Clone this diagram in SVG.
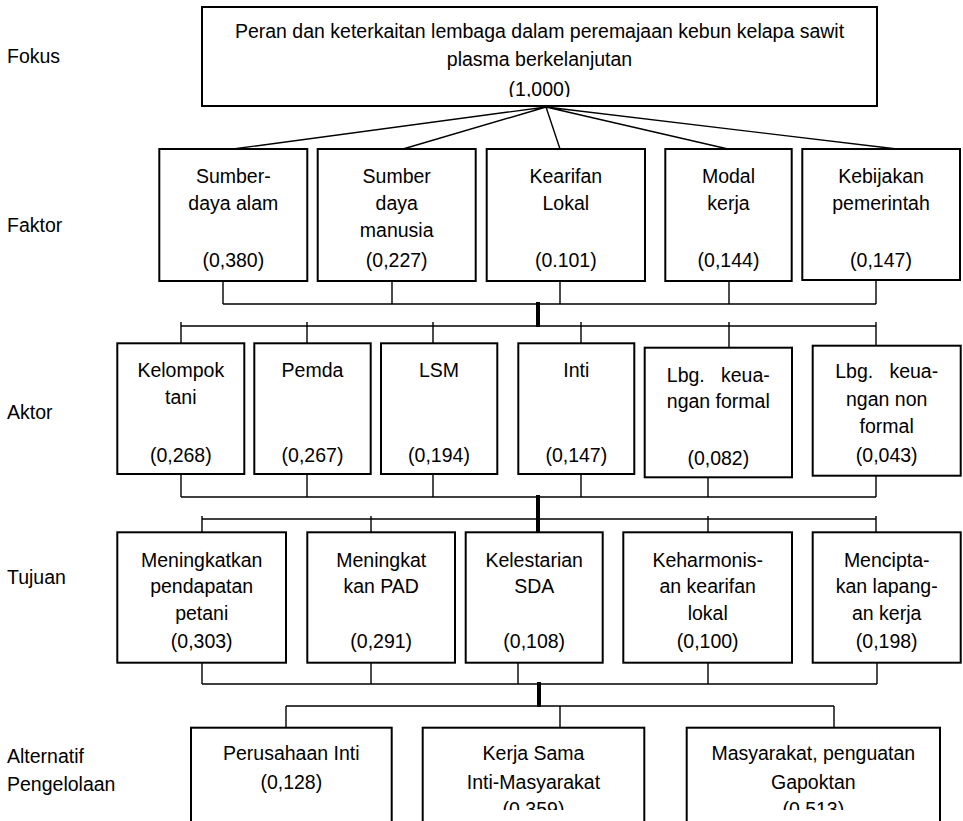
<svg xmlns="http://www.w3.org/2000/svg" width="963" height="821" viewBox="0 0 963 821">
<style>
.box{fill:#fff;stroke:#000;stroke-width:2}
.ln{stroke:#000;stroke-width:1.4;fill:none}
.thick{stroke:#000;stroke-width:4;fill:none}
text{font-family:"Liberation Sans",Arial,sans-serif;font-size:19.5px;fill:#000}
.c{text-anchor:middle}
</style>
<defs>
<clipPath id="clipTop"><rect x="0" y="0" width="963" height="97"/></clipPath>
<clipPath id="clipBot"><rect x="0" y="0" width="963" height="810"/></clipPath>
</defs>
<rect x="0" y="0" width="963" height="821" fill="#fff"/>
<g id="levels">
<text x="7" y="63">Fokus</text>
<text x="7" y="232">Faktor</text>
<text x="7" y="419">Aktor</text>
<text x="7" y="584">Tujuan</text>
<text x="7" y="763">Alternatif</text>
<text x="7" y="791">Pengelolaan</text>
</g>
<g id="connectors">
<path class="ln" d="M546,107 L233,149 M546,107 L403,149 M546,107 L560,149 M546,107 L728,149 M546,107 L897,149"/>
<path class="ln" d="M223,281 V304 M392,281 V304 M560,281 V304 M729,281 V304 M876,280 V304 M223,304 H876"/>
<path class="thick" d="M538,302 V327"/>
<path class="ln" d="M181,326 H876 M181,322 V343 M307,322 V343 M433,322 V343 M581,322 V343 M729,322 V348 M876,322 V346"/>
<path class="ln" d="M181,474 V497 M307,474 V497 M433,474 V497 M581,474 V497 M708,477 V497 M876,476 V497 M181,497 H876"/>
<path class="thick" d="M538,495 V532"/>
<path class="ln" d="M202,519 H876 M202,516 V532 M371,516 V532 M708,516 V532 M876,516 V532"/>
<path class="ln" d="M202,663 V684 M371,663 V684 M518,663 V684 M708,663 V684 M877,663 V684 M202,684 H877"/>
<path class="thick" d="M539,682 V707"/>
<path class="ln" d="M286,706 H834 M286,706 V728 M560,706 V728 M834,706 V728"/>
</g>
<g id="fokus">
<rect class="box" x="202" y="7" width="675" height="99"/>
<text class="c" x="539.5" y="38">Peran dan keterkaitan lembaga dalam peremajaan kebun kelapa sawit</text>
<text class="c" x="539.5" y="66">plasma berkelanjutan</text>
<text class="c" x="539.5" y="96" clip-path="url(#clipTop)">(1,000)</text>
</g>
<g id="faktor-sda">
<rect class="box" x="159.3" y="149" width="148" height="132"/>
<text class="c" x="233.3" y="183">Sumber-</text>
<text class="c" x="233.3" y="210">daya alam</text>
<text class="c" x="233.3" y="267">(0,380)</text>
</g>
<g id="faktor-sdm">
<rect class="box" x="317.7" y="149" width="158" height="132"/>
<text class="c" x="396.7" y="183">Sumber</text>
<text class="c" x="396.7" y="210">daya</text>
<text class="c" x="396.7" y="237">manusia</text>
<text class="c" x="396.7" y="267">(0,227)</text>
</g>
<g id="faktor-kearifan">
<rect class="box" x="486.7" y="149" width="158.3" height="132"/>
<text class="c" x="565.8" y="183">Kearifan</text>
<text class="c" x="565.8" y="210">Lokal</text>
<text class="c" x="565.8" y="267">(0.101)</text>
</g>
<g id="faktor-modal">
<rect class="box" x="665.3" y="149" width="126.4" height="132"/>
<text class="c" x="728.5" y="183">Modal</text>
<text class="c" x="728.5" y="210">kerja</text>
<text class="c" x="728.5" y="267">(0,144)</text>
</g>
<g id="faktor-kebijakan">
<rect class="box" x="802.3" y="149" width="157.7" height="131"/>
<text class="c" x="881" y="183">Kebijakan</text>
<text class="c" x="881" y="210">pemerintah</text>
<text class="c" x="881" y="267">(0,147)</text>
</g>
<g id="aktor-kelompok">
<rect class="box" x="117.3" y="343.3" width="127" height="130.7"/>
<text class="c" x="180.8" y="377">Kelompok</text>
<text class="c" x="180.8" y="404">tani</text>
<text class="c" x="180.8" y="462">(0,268)</text>
</g>
<g id="aktor-pemda">
<rect class="box" x="254.3" y="343.3" width="116.4" height="130.7"/>
<text class="c" x="312.5" y="377">Pemda</text>
<text class="c" x="312.5" y="462">(0,267)</text>
</g>
<g id="aktor-lsm">
<rect class="box" x="381" y="343.3" width="116.3" height="130.7"/>
<text class="c" x="439" y="377">LSM</text>
<text class="c" x="439" y="462">(0,194)</text>
</g>
<g id="aktor-inti">
<rect class="box" x="518.3" y="343.3" width="116" height="130.7"/>
<text class="c" x="576.3" y="377">Inti</text>
<text class="c" x="576.3" y="462">(0,147)</text>
</g>
<g id="aktor-lk-formal">
<rect class="box" x="644.7" y="347.7" width="147.3" height="129.6"/>
<text class="c" x="718.3" y="382" xml:space="preserve">Lbg.   keua-</text>
<text class="c" x="718.3" y="408">ngan formal</text>
<text class="c" x="718.3" y="465">(0,082)</text>
</g>
<g id="aktor-lk-nonformal">
<rect class="box" x="812.7" y="345.7" width="148" height="130"/>
<text class="c" x="886.7" y="378" xml:space="preserve">Lbg.   keua-</text>
<text class="c" x="886.7" y="406">ngan non</text>
<text class="c" x="886.7" y="433">formal</text>
<text class="c" x="886.7" y="462">(0,043)</text>
</g>
<g id="tujuan-pendapatan">
<rect class="box" x="117.3" y="532.3" width="168.7" height="130.4"/>
<text class="c" x="201.7" y="567">Meningkatkan</text>
<text class="c" x="201.7" y="593">pendapatan</text>
<text class="c" x="201.7" y="620">petani</text>
<text class="c" x="201.7" y="648">(0,303)</text>
</g>
<g id="tujuan-pad">
<rect class="box" x="307.3" y="532.3" width="147.7" height="130.4"/>
<text class="c" x="381.2" y="567">Meningkat</text>
<text class="c" x="381.2" y="593">kan PAD</text>
<text class="c" x="381.2" y="648">(0,291)</text>
</g>
<g id="tujuan-sda">
<rect class="box" x="465.7" y="532.3" width="137" height="130.4"/>
<text class="c" x="534.2" y="567">Kelestarian</text>
<text class="c" x="534.2" y="593">SDA</text>
<text class="c" x="534.2" y="648">(0,108)</text>
</g>
<g id="tujuan-kearifan">
<rect class="box" x="623.3" y="532.3" width="168.7" height="130.4"/>
<text class="c" x="707.7" y="567">Keharmonis-</text>
<text class="c" x="707.7" y="593">an kearifan</text>
<text class="c" x="707.7" y="620">lokal</text>
<text class="c" x="707.7" y="648">(0,100)</text>
</g>
<g id="tujuan-lapangan">
<rect class="box" x="812.7" y="532.3" width="148" height="130.4"/>
<text class="c" x="886.7" y="567">Mencipta-</text>
<text class="c" x="886.7" y="593">kan lapang-</text>
<text class="c" x="886.7" y="620">an kerja</text>
<text class="c" x="886.7" y="648">(0,198)</text>
</g>
<g id="alt-inti">
<rect class="box" x="191" y="727.7" width="200.7" height="110"/>
<text class="c" x="291.3" y="760">Perusahaan Inti</text>
<text class="c" x="291.3" y="789">(0,128)</text>
</g>
<g id="alt-kerjasama">
<rect class="box" x="422.7" y="727.7" width="221.6" height="110"/>
<text class="c" x="533.5" y="760">Kerja Sama</text>
<text class="c" x="533.5" y="789">Inti-Masyarakat</text>
<text class="c" x="533.5" y="816" clip-path="url(#clipBot)">(0,359)</text>
</g>
<g id="alt-masyarakat">
<rect class="box" x="686.7" y="727.7" width="253.3" height="110"/>
<text class="c" x="813.3" y="760">Masyarakat, penguatan</text>
<text class="c" x="813.3" y="789">Gapoktan</text>
<text class="c" x="813.3" y="816" clip-path="url(#clipBot)">(0,513)</text>
</g>
</svg>
